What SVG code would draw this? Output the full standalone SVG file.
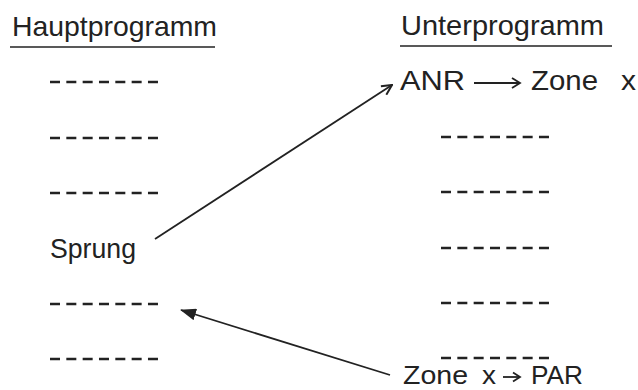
<svg xmlns="http://www.w3.org/2000/svg" width="638" height="390" viewBox="0 0 638 390">
<style>
  text { font-family: "Liberation Sans", Arial, sans-serif; font-size: 28px; fill: #222; }
  .low { font-size: 26px; }
  .ul { stroke: #222; stroke-width: 1.6; }
  .dash { stroke: #222; stroke-width: 2.4; stroke-dasharray: 10 6.33; }
  .conn { stroke: #222; stroke-width: 1.8; fill: none; }
</style>
<defs>
  <marker id="open" viewBox="0 0 12 12" refX="11" refY="6" markerWidth="12" markerHeight="12" markerUnits="userSpaceOnUse" orient="auto">
    <path d="M1,1 L11,6 L1,11" fill="none" stroke="#222" stroke-width="2"/>
  </marker>
  <marker id="filled" viewBox="0 0 16 12" refX="15" refY="6" markerWidth="16" markerHeight="12" markerUnits="userSpaceOnUse" orient="auto">
    <path d="M0,0 L16,6 L0,12 Z" fill="#222"/>
  </marker>
</defs>
<rect width="638" height="390" fill="#fff"/>

<g id="haupt-title">
  <text x="12" y="36" textLength="205" lengthAdjust="spacingAndGlyphs">Hauptprogramm</text>
  <line class="ul" x1="10" y1="47" x2="215" y2="47"/>
</g>
<g id="unter-title">
  <text x="401" y="35" textLength="203" lengthAdjust="spacingAndGlyphs">Unterprogramm</text>
  <line class="ul" x1="400" y1="46" x2="612" y2="46"/>
</g>

<g id="haupt-lines">
  <line class="dash" x1="50" y1="82" x2="158" y2="82"/>
  <line class="dash" x1="50" y1="138" x2="158" y2="138"/>
  <line class="dash" x1="50" y1="193" x2="158" y2="193"/>
  <line class="dash" x1="50" y1="304" x2="158" y2="304"/>
  <line class="dash" x1="50" y1="359" x2="158" y2="359"/>
</g>
<g id="sprung">
  <text x="50" y="258" textLength="86" lengthAdjust="spacingAndGlyphs">Sprung</text>
</g>

<g id="anr">
  <text x="400" y="90" textLength="65" lengthAdjust="spacingAndGlyphs">ANR</text>
  <line x1="474" y1="83" x2="519" y2="83" stroke="#222" stroke-width="1.8"/>
  <path d="M512,78 L520,83 L512,88" fill="none" stroke="#222" stroke-width="1.8"/>
  <text x="531" y="90" textLength="67" lengthAdjust="spacingAndGlyphs">Zone</text>
  <text x="621" y="90" textLength="15" lengthAdjust="spacingAndGlyphs">x</text>
</g>

<g id="unter-lines">
  <line class="dash" x1="441" y1="137" x2="550" y2="137"/>
  <line class="dash" x1="441" y1="192" x2="550" y2="192"/>
  <line class="dash" x1="441" y1="248" x2="550" y2="248"/>
  <line class="dash" x1="441" y1="303" x2="550" y2="303"/>
  <line class="dash" x1="441" y1="358" x2="550" y2="358"/>
</g>

<g id="par">
  <text class="low" x="403" y="384" textLength="65" lengthAdjust="spacingAndGlyphs">Zone</text>
  <text class="low" x="482" y="384" textLength="14" lengthAdjust="spacingAndGlyphs">x</text>
  <line x1="503" y1="377" x2="519" y2="377" stroke="#222" stroke-width="1.8"/>
  <path d="M513,372.5 L520,377 L513,381.5" fill="none" stroke="#222" stroke-width="1.8"/>
  <text class="low" x="531" y="384" textLength="52" lengthAdjust="spacingAndGlyphs">PAR</text>
</g>

<g id="connectors">
  <line class="conn" x1="155" y1="239" x2="392" y2="85" marker-end="url(#open)"/>
  <line class="conn" x1="390" y1="375" x2="181" y2="310" marker-end="url(#filled)"/>
</g>
</svg>
